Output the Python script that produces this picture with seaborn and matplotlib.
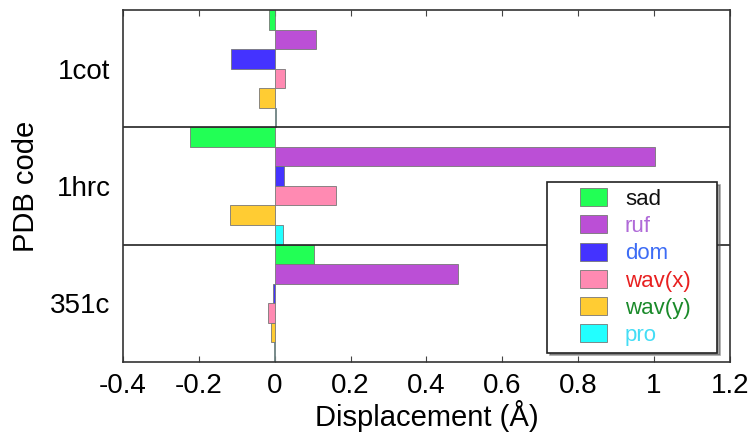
import matplotlib
matplotlib.use("Agg")
import matplotlib.pyplot as plt
import matplotlib.patches as mpatches
from matplotlib.legend_handler import HandlerPatch
import seaborn as sns
import pandas as pd

codes = ["1cot", "1hrc", "351c"]
modes = ["sad", "ruf", "dom", "wav(x)", "wav(y)", "pro"]
vals_1cot = [-0.015, 0.108, -0.115, 0.028, -0.040, 0.003]
vals_1hrc = [-0.224, 1.003, 0.024, 0.163, -0.119, 0.023]
vals_351c = [0.105, 0.484, -0.004, -0.017, -0.009, -0.003]
xticks = [-0.4, -0.2, 0, 0.2, 0.4, 0.6, 0.8, 1, 1.2]
xtick_labels = ["-0.4", "-0.2", "0", "0.2", "0.4", "0.6", "0.8", "1", "1.2"]

bar_colors = ["#22ff55", "#bb4fd6", "#4433ff", "#ff8ab2", "#ffcc33", "#22ffff"]
text_colors = ["#111111", "#b06ad8", "#3d6cf5", "#e82020", "#1a8a2a", "#44ddf5"]

rows = []
for code, vals in zip(codes, [vals_1cot, vals_1hrc, vals_351c]):
    for m, v in zip(modes, vals):
        rows.append({"code": code, "mode": m, "value": v})
df = pd.DataFrame(rows)

sns.set_style("white")
plt.rcParams["font.family"] = ["Liberation Sans", "DejaVu Sans"]
plt.rcParams["text.color"] = "black"
plt.rcParams["axes.labelcolor"] = "black"
plt.rcParams["xtick.color"] = "black"
plt.rcParams["ytick.color"] = "black"

fig = plt.figure(figsize=(7.54, 4.37), dpi=100)
ax = fig.add_axes([0.163, 0.172, 0.805, 0.805])

sns.barplot(data=df, x="value", y="code", hue="mode", order=codes, hue_order=modes,
            palette=bar_colors, width=1.0, orient="h", ax=ax,
            edgecolor="#777777", linewidth=0.6, legend=True, saturation=1)

ax.set_xlim(-0.4, 1.2)
ax.set_ylim(2.5, -0.5)
ax.set_xticks(xticks)
ax.set_xticklabels(xtick_labels, fontsize=20, color="black")
ax.tick_params(axis="x", direction="in", length=4, top=True, bottom=True, pad=8,
               color="#444444", labelcolor="black")
ax.tick_params(axis="y", length=0, labelsize=20, pad=9, labelcolor="black")
for y in [0.5, 1.5]:
    ax.axhline(y, color="#222222", linewidth=1.2)
for s in ax.spines.values():
    s.set_color("#333333")
    s.set_linewidth(1.2)
ax.set_xlabel("Displacement (Å)", fontsize=21, labelpad=1, color="black")
ax.set_ylabel("PDB code", fontsize=21, labelpad=7, color="black")


def make_rect(legend, orig_handle, xdescent, ydescent, width, height, fontsize):
    rw = 19.5
    rh = 13.0
    return mpatches.Rectangle((-xdescent + width - rw, -ydescent + (height - rh) / 2), rw, rh)


leg = ax.legend(loc="lower left", bbox_to_anchor=(0.699, 0.026, 0.28, 0.49), mode="expand",
                fontsize=16, frameon=True, fancybox=False, shadow=True,
                handlelength=2.4, handleheight=0.8, handletextpad=0.8,
                borderpad=0.3, labelspacing=0.27, borderaxespad=0,
                handler_map={mpatches.Rectangle: HandlerPatch(patch_func=make_rect)})
leg.get_frame().set_edgecolor("#222222")
leg.get_frame().set_linewidth(1.2)
for t, c in zip(leg.get_texts(), text_colors):
    t.set_color(c)

fig.savefig("out.png", dpi=100)
